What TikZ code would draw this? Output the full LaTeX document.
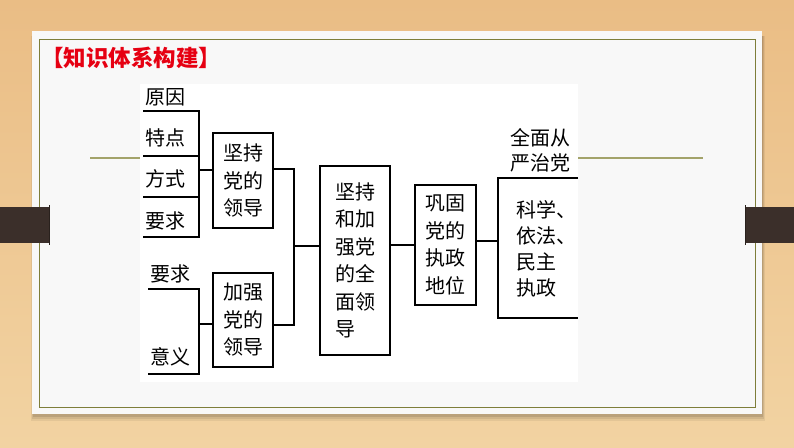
\documentclass[tikz,border=0pt]{standalone}
\usepackage{fontspec}
\newfontfamily\cjk{Noto Sans CJK SC}
\usetikzlibrary{calc}
\definecolor{wood}{HTML}{F2D3A2}
\definecolor{wooddark}{HTML}{EABD85}
\definecolor{card}{HTML}{F8F8F8}
\definecolor{olive}{HTML}{7E7E3A}
\definecolor{oliveline}{HTML}{A3A36A}
\definecolor{barc}{HTML}{3B2F2A}
\definecolor{titlered}{HTML}{E60012}
\tikzset{
  lbl/.style={font=\cjk\fontsize{20}{27}\selectfont, inner sep=0pt, anchor=center},
  boxnode/.style={draw=black, line width=1.3pt, fill=white, inner sep=0pt,
    font=\cjk\fontsize{20}{27.5}\selectfont, align=left},
  conn/.style={draw=black, line width=1.3pt},
}
\begin{document}
\begin{tikzpicture}[x=1pt,y=-1pt]
\useasboundingbox (0,0) rectangle (794,447);
% background
\shade[top color=wooddark, bottom color=wood] (0,0) rectangle (794,447);
% shadow of card
\foreach \i/\o in {6/0.06,4/0.08,2/0.10}{
  \fill[black, opacity=\o] (34-\i/2,36) rectangle (762+\i/2,415+\i);
}
% card
\fill[card] (32,31) rectangle (762,414);
\draw[olive, line width=0.9pt] (39.5,39) rectangle (755,407);
% bars
\fill[barc] (0,207) rectangle (49,243);
\fill[barc] (745,207) rectangle (794,243);
\draw[barc!70!black, line width=1pt] (49,205) -- (49,245);
\draw[barc!70!black, line width=1pt] (745,205) -- (745,245);
% decorative line
\draw[oliveline, line width=1.2pt] (90,158) -- (703,158);
% diagram image area
\fill[white] (140,84) rectangle (578,382);
% title
\node[font=\cjk\bfseries\fontsize{22.5}{26}\selectfont, text=titlered, inner sep=0pt] (title) at (131,58) {【知识体系构建】};

% left labels top group
\node[lbl] (l1) at (165,97) {原因};
\node[lbl] (l2) at (165,138) {特点};
\node[lbl] (l3) at (165,179) {方式};
\node[lbl] (l4) at (165,221) {要求};
% left labels bottom group
\node[lbl] (l5) at (170,274) {要求};
\node[lbl] (l6) at (170,357) {意义};

% boxes
\node[boxnode, minimum width=60pt, minimum height=95pt] (b1) at (243,180.5) {坚持\\党的\\领导};
\node[boxnode, minimum width=60pt, minimum height=94pt] (b2) at (243,320) {加强\\党的\\领导};
\node[boxnode, minimum width=70pt, minimum height=189pt] (b3) at (355,260.5) {坚持\\和加\\强党\\的全\\面领\\导};
\node[boxnode, minimum width=61pt, minimum height=120pt] (b4) at (445.5,245) {巩固\\党的\\执政\\地位};

% right group
\node[lbl, font=\cjk\fontsize{20}{25}\selectfont, align=left] (r1) at (540,150) {全面从\\严治党};
\node[lbl, font=\cjk\fontsize{20}{26}\selectfont, align=left, anchor=north west] (r2) at (516,200) {科学、\\依法、\\民主\\执政};

% coordinates
\coordinate (u1) at (143,111);
\coordinate (u2) at (143,156);
\coordinate (u3) at (143,197);
\coordinate (u4) at (143,237);
\coordinate (v1) at (199,111);
\coordinate (v4) at (199,237);
\coordinate (j1) at (199,170);
\coordinate (u5) at (148,289);
\coordinate (u6) at (148,374);
\coordinate (v5) at (199,289);
\coordinate (v6) at (199,374);
\coordinate (j2) at (199,324);
\coordinate (k1) at (294,169);
\coordinate (k2) at (294,325);
\coordinate (k3) at (294,246);
\coordinate (n1) at (498,241);
\coordinate (t1) at (578,178);
\coordinate (t2) at (498,178);
\coordinate (t3) at (498,318);
\coordinate (t4) at (578,318);

% connectors left top
\draw[conn] (u1) -- (v1) -- (v4) -- (u4);
\draw[conn] (u2) -- (u2 -| v1);
\draw[conn] (u3) -- (u3 -| v1);
\draw[conn] (j1) -- (j1 -| b1.west);
% connectors left bottom
\draw[conn] (u5) -- (v5) -- (v6) -- (u6);
\draw[conn] (j2) -- (j2 -| b2.west);
% merge
\draw[conn] (k1 -| b1.east) -- (k1) -- (k2) -- (k2 -| b2.east);
\draw[conn] (k3) -- (k3 -| b3.west);
% middle
\draw[conn] (b4.west) -- (b4.west -| b3.east);
\draw[conn] (n1 -| b4.east) -- (n1);
% bracket
\draw[conn] (t1) -- (t2) -- (t3) -- (t4);
\end{tikzpicture}
\end{document}
